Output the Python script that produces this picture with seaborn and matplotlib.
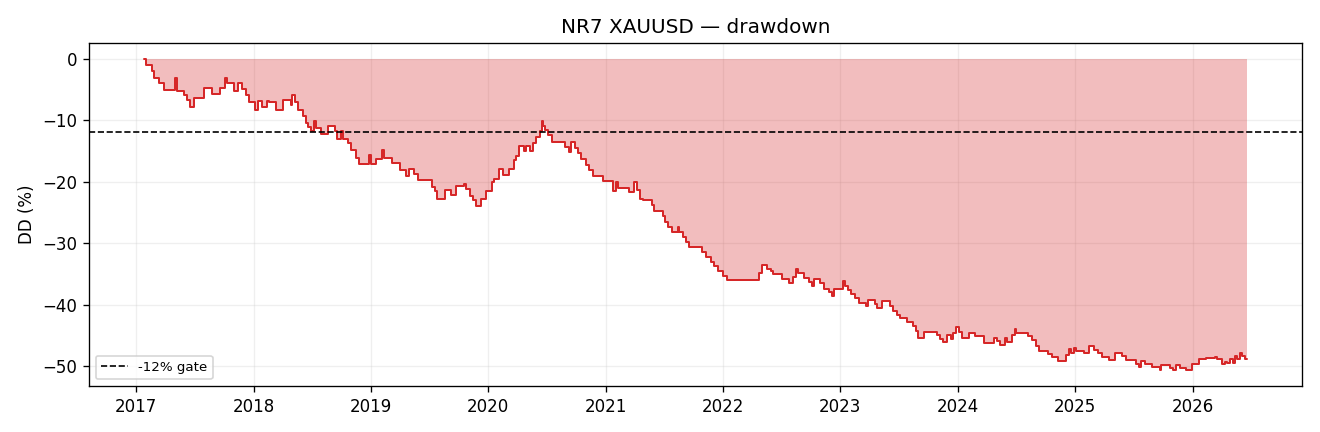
import matplotlib
matplotlib.use("Agg")
import matplotlib.pyplot as plt
import matplotlib.dates as mdates
import numpy as np
import pandas as pd
import seaborn as sns

# ---- data (decimal year of each step, drawdown %) ----
dd_time = [
    2017.066, 2017.080, 2017.136, 2017.151, 2017.194, 2017.236, 2017.330, 2017.350,
    2017.407, 2017.435, 2017.458, 2017.492, 2017.577, 2017.648, 2017.711, 2017.756,
    2017.776, 2017.833, 2017.870, 2017.904, 2017.938, 2017.961, 2018.012, 2018.040,
    2018.074, 2018.117, 2018.131, 2018.194, 2018.251, 2018.316, 2018.330, 2018.350,
    2018.381, 2018.421, 2018.449, 2018.466, 2018.487, 2018.515, 2018.535, 2018.572,
    2018.634, 2018.691, 2018.708, 2018.748, 2018.765, 2018.805, 2018.833, 2018.876,
    2018.899, 2018.984, 2018.998, 2019.041, 2019.092, 2019.112, 2019.182, 2019.246,
    2019.302, 2019.325, 2019.367, 2019.402, 2019.518, 2019.546, 2019.566, 2019.632,
    2019.685, 2019.728, 2019.794, 2019.808, 2019.842, 2019.870, 2019.899, 2019.936,
    2019.979, 2020.035, 2020.049, 2020.092, 2020.126, 2020.177, 2020.220, 2020.240,
    2020.263, 2020.305, 2020.320, 2020.354, 2020.382, 2020.405, 2020.442, 2020.456,
    2020.467, 2020.484, 2020.510, 2020.546, 2020.655, 2020.683, 2020.703, 2020.740,
    2020.760, 2020.789, 2020.831, 2020.859, 2020.893, 2020.973, 2021.064, 2021.087,
    2021.101, 2021.194, 2021.237, 2021.263, 2021.292, 2021.320, 2021.394, 2021.414,
    2021.484, 2021.507, 2021.527, 2021.564, 2021.612, 2021.627, 2021.661, 2021.684,
    2021.712, 2021.817, 2021.854, 2021.897, 2021.925, 2021.953, 2021.996, 2022.030,
    2022.309, 2022.332, 2022.371, 2022.408, 2022.428, 2022.502, 2022.558, 2022.598,
    2022.622, 2022.641, 2022.692, 2022.735, 2022.754, 2022.777, 2022.829, 2022.863,
    2022.899, 2022.928, 2022.948, 2023.019, 2023.042, 2023.061, 2023.090, 2023.127,
    2023.161, 2023.218, 2023.238, 2023.298, 2023.312, 2023.351, 2023.423, 2023.451,
    2023.479, 2023.508, 2023.564, 2023.622, 2023.645, 2023.664, 2023.715, 2023.820,
    2023.849, 2023.877, 2023.905, 2023.943, 2023.963, 2023.986, 2024.008, 2024.037,
    2024.093, 2024.150, 2024.221, 2024.306, 2024.332, 2024.361, 2024.403, 2024.417,
    2024.460, 2024.483, 2024.497, 2024.596, 2024.633, 2024.662, 2024.690, 2024.766,
    2024.801, 2024.852, 2024.923, 2024.943, 2024.960, 2024.986, 2025.009, 2025.071,
    2025.113, 2025.156, 2025.193, 2025.227, 2025.284, 2025.335, 2025.401, 2025.435,
    2025.514, 2025.542, 2025.563, 2025.591, 2025.656, 2025.719, 2025.733, 2025.804,
    2025.832, 2025.861, 2025.895, 2025.940, 2025.994, 2026.054, 2026.117, 2026.194,
    2026.207, 2026.253, 2026.279, 2026.292, 2026.315, 2026.344, 2026.364, 2026.381,
    2026.401, 2026.420, 2026.449, 2026.463,
]
dd_value = [
    0.0, -1.0, -2.1, -3.2, -4.0, -5.1, -3.2, -5.3,
    -5.9, -6.7, -7.8, -6.4, -4.8, -5.7, -4.8, -3.2,
    -4.0, -5.3, -3.9, -5.0, -5.9, -7.1, -8.3, -6.9,
    -7.9, -6.9, -7.1, -8.3, -6.7, -7.5, -6.0, -7.1,
    -8.4, -9.4, -10.5, -11.1, -11.7, -10.2, -11.3, -12.3,
    -10.9, -11.8, -13.0, -11.7, -13.0, -13.8, -14.9, -16.1,
    -17.2, -15.6, -17.2, -16.3, -14.9, -16.1, -17.0, -18.1,
    -19.1, -17.9, -18.8, -19.8, -20.9, -21.5, -22.8, -21.4,
    -22.2, -20.7, -20.4, -21.2, -22.3, -23.0, -24.0, -22.8,
    -21.5, -20.0, -19.6, -18.0, -19.0, -17.9, -16.5, -15.8,
    -14.2, -15.1, -14.2, -15.1, -13.7, -12.8, -11.8, -10.1,
    -10.9, -11.6, -12.4, -13.5, -14.3, -15.2, -13.6, -14.5,
    -15.4, -16.4, -17.3, -18.1, -19.1, -19.9, -21.5, -20.1,
    -21.0, -21.7, -20.1, -21.3, -22.8, -23.0, -23.8, -24.8,
    -25.6, -26.6, -27.4, -28.2, -27.4, -28.2, -29.0, -29.9,
    -30.7, -31.5, -32.3, -33.0, -33.8, -34.5, -35.3, -36.0,
    -34.8, -33.5, -34.2, -34.6, -35.1, -35.8, -36.5, -35.5,
    -34.2, -34.9, -35.6, -36.3, -36.9, -35.8, -36.5, -37.4,
    -38.0, -38.6, -37.5, -36.2, -36.9, -37.7, -38.3, -38.9,
    -39.7, -40.3, -39.2, -39.9, -40.5, -39.4, -40.2, -41.1,
    -41.7, -42.2, -42.8, -43.5, -44.3, -45.4, -44.4, -44.9,
    -45.6, -46.1, -45.0, -45.6, -44.6, -43.6, -44.4, -45.5,
    -44.6, -45.1, -46.3, -45.4, -46.0, -46.5, -45.4, -46.1,
    -44.9, -44.0, -44.6, -45.1, -45.8, -46.7, -47.5, -48.1,
    -48.6, -49.2, -48.2, -47.3, -47.8, -47.0, -47.5, -47.9,
    -46.7, -47.4, -47.9, -48.5, -49.0, -47.9, -48.4, -49.0,
    -49.6, -50.2, -49.2, -49.7, -50.1, -50.7, -49.8, -50.3,
    -50.7, -49.8, -50.3, -50.7, -49.7, -48.9, -48.7, -48.5,
    -48.9, -49.7, -49.3, -49.5, -48.9, -49.5, -48.3, -48.9,
    -47.9, -48.3, -48.9, -48.9,
]
gate_level = -12.0
gate_label = "-12% gate"
title_text = "NR7 XAUUSD \u2014 drawdown"
ylabel_text = "DD (%)"


def to_datetime(decimal_year):
    yr = int(np.floor(decimal_year))
    start = pd.Timestamp(year=yr, month=1, day=1)
    end = pd.Timestamp(year=yr + 1, month=1, day=1)
    return start + (end - start) * (decimal_year - yr)


df = pd.DataFrame({
    "date": [to_datetime(t) for t in dd_time],
    "dd": dd_value,
})

sns.set_style("ticks", {
    "axes.edgecolor": "black",
    "xtick.color": "black",
    "ytick.color": "black",
    "text.color": "black",
    "axes.labelcolor": "black",
})
plt.rcParams["font.family"] = ["DejaVu Sans"]

fig = plt.figure(figsize=(11, 3.6), dpi=120)
ax = fig.add_subplot(111)
fig.subplots_adjust(left=0.0674, right=0.9864, top=0.9005, bottom=0.1065)

ax.fill_between(df["date"], df["dd"], 0, step="post", color="tab:red",
                alpha=0.3, linewidth=0)
sns.lineplot(data=df, x="date", y="dd", ax=ax, drawstyle="steps-post",
             color="#d62728", linewidth=1.2, estimator=None)
ax.axhline(gate_level, color="black", linestyle="--", linewidth=1.0,
           label=gate_label)

ax.set_title(title_text, fontsize=12)
ax.set_ylabel(ylabel_text, fontsize=10)
ax.set_xlabel("")
ax.grid(True, alpha=0.3)
ax.xaxis.set_major_locator(mdates.YearLocator())
ax.xaxis.set_major_formatter(mdates.DateFormatter("%Y"))
ax.tick_params(labelsize=10)
ax.legend(loc="lower left", fontsize=8)

fig.savefig("out.png", dpi=120)
